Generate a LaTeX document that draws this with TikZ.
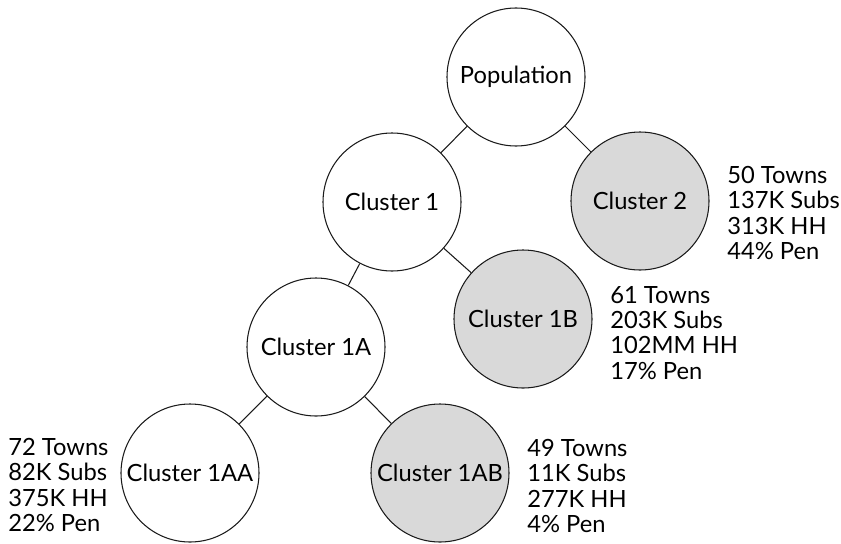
\documentclass[tikz,border=0pt]{standalone}
\usepackage{fontspec}
\setmainfont{Lato}
\usepackage{tikz}
\usetikzlibrary{positioning}
\definecolor{LineBlack}{HTML}{1A1A1A}
\definecolor{SoftGray}{HTML}{D9D9D9}
\tikzset{
  CL/.style={circle,draw=LineBlack,line width=0.6pt,
             minimum size=2.76cm,inner sep=0pt,
             text centered,font=\fontsize{13.5}{14.3}\selectfont},
  cW/.style={CL,fill=white},
  cG/.style={CL,fill=SoftGray},
  st/.style={anchor=west,align=left,inner sep=0pt,
             font=\fontsize{13.5}{14.3}\selectfont},
  lnk/.style={draw=LineBlack,line width=0.6pt}
}
\begin{document}
\begin{tikzpicture}
  \useasboundingbox (0,0) rectangle (16.82,-10.88);

  \node[cW] (pop)  at (10.32,-1.54) {Population};
  \node[cW] (c1)   at (7.84,-4.04)  {Cluster 1};
  \node[cG] (c2)   at (12.80,-4.02) {Cluster 2};
  \node[cW] (c1a)  at (6.32,-6.94)  {Cluster 1A};
  \node[cG] (c1b)  at (10.46,-6.38) {Cluster 1B};
  \node[cW] (c1aa) at (3.80,-9.46)  {Cluster 1AA};
  \node[cG] (c1ab) at (8.80,-9.46)  {Cluster 1AB};

  \node[st] (s2)   at (14.54,-4.26) {50 Towns\\137K Subs\\313K HH\\44\% Pen};
  \node[st] (s1b)  at (12.20,-6.66) {61 Towns\\203K Subs\\102MM HH\\17\% Pen};
  \node[st] (s1aa) at (0.16,-9.70)  {72 Towns\\82K Subs\\375K HH\\22\% Pen};
  \node[st] (s1ab) at (10.54,-9.72) {49 Towns\\11K Subs\\277K HH\\4\% Pen};

  \draw[lnk](pop)--(c1);
  \draw[lnk](pop)--(c2);
  \draw[lnk](c1)--(c1a);
  \draw[lnk](c1)--(c1b);
  \draw[lnk](c1a)--(c1aa);
  \draw[lnk](c1a)--(c1ab);
\end{tikzpicture}
\end{document}
